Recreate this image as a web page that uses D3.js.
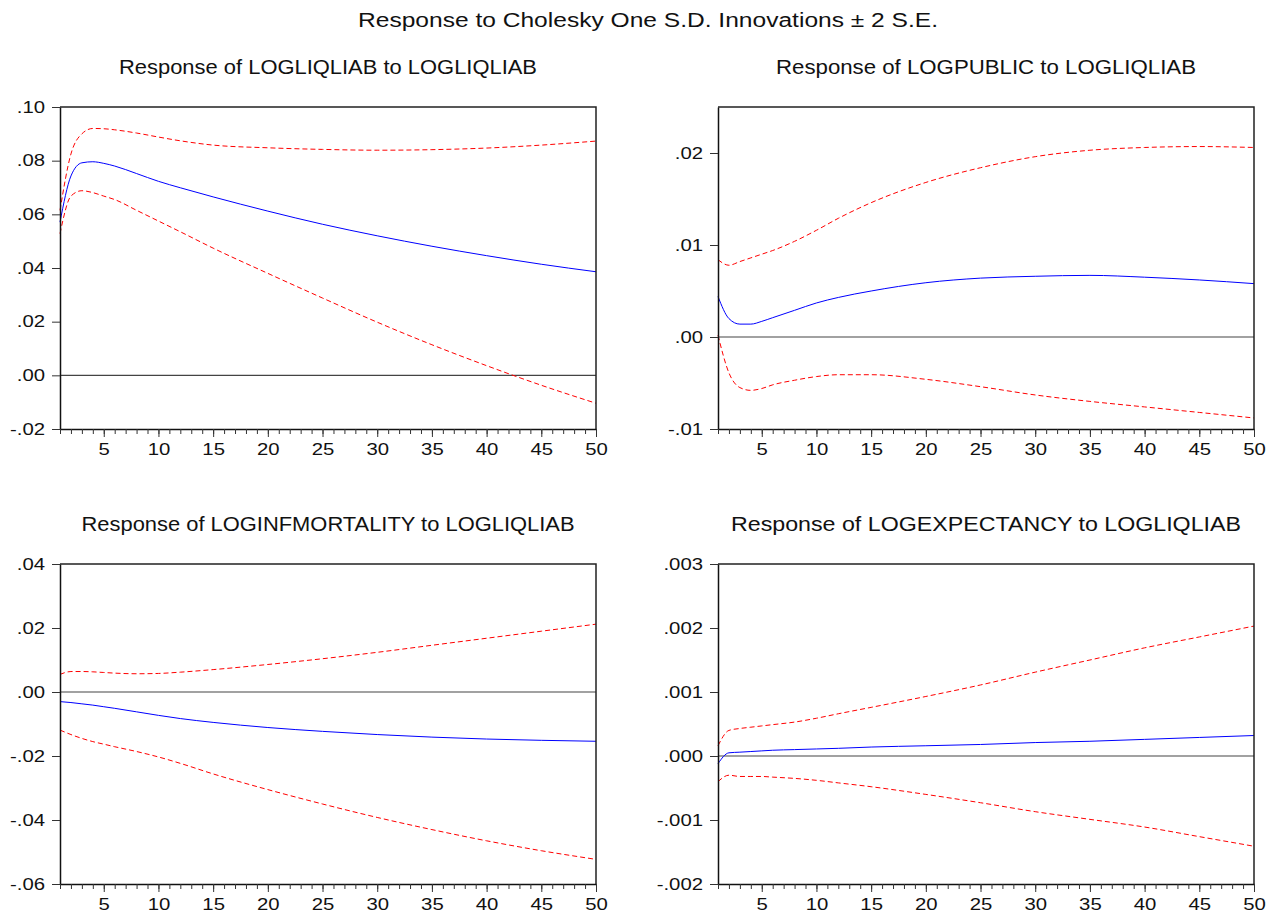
<!DOCTYPE html>
<html>
<head>
<meta charset="utf-8">
<script src="https://cdn.jsdelivr.net/npm/d3@7"></script>
<style>
  html, body { margin: 0; padding: 0; background: #fff; }
  svg { display: block; }
  text { font-family: "Liberation Sans", Arial, sans-serif; fill: #111; }
</style>
</head>
<body>
<svg id="chart" width="1276" height="914"></svg>
<script>
// ---------------- DATA ----------------
const mainTitle = "Response to Cholesky One S.D. Innovations \u00B1 2 S.E.";
const panelTitles = [
  "Response of LOGLIQLIAB to LOGLIQLIAB",
  "Response of LOGPUBLIC to LOGLIQLIAB",
  "Response of LOGINFMORTALITY to LOGLIQLIAB",
  "Response of LOGEXPECTANCY to LOGLIQLIAB"
];
const periods = [1, 2, 3, 4, 5, 6, 8, 10, 12, 15, 20, 25, 30, 35, 40, 45, 50];
const xTickValues = [5, 10, 15, 20, 25, 30, 35, 40, 45, 50];

// Panel 1: LOGLIQLIAB to LOGLIQLIAB
const p1Resp  = [0.0571, 0.0743, 0.0792, 0.0796, 0.0790, 0.0780, 0.0752, 0.0723, 0.0699, 0.0665, 0.0612, 0.0563, 0.0520, 0.0481, 0.0446, 0.0414, 0.0386];
const p1Upper = [0.0615, 0.0825, 0.0900, 0.0920, 0.0919, 0.0915, 0.0903, 0.0888, 0.0874, 0.0858, 0.0848, 0.0842, 0.0839, 0.0841, 0.0847, 0.0858, 0.0873];
const p1Lower = [0.0528, 0.0668, 0.0688, 0.0681, 0.0668, 0.0655, 0.0615, 0.0575, 0.0535, 0.0474, 0.0380, 0.0288, 0.0198, 0.0114, 0.0036, -0.0037, -0.0104];
const p1Ticks = [-0.02, 0.00, 0.02, 0.04, 0.06, 0.08, 0.10];
const p1Labels = ["-.02", ".00", ".02", ".04", ".06", ".08", ".10"];

// Panel 2: LOGPUBLIC to LOGLIQLIAB
const p2Resp  = [0.0044, 0.0020, 0.0014, 0.0014, 0.0017, 0.0021, 0.0029, 0.0037, 0.0043, 0.0050, 0.0059, 0.0064, 0.0066, 0.0067, 0.0065, 0.0062, 0.0058];
const p2Upper = [0.0084, 0.0078, 0.0082, 0.0086, 0.0090, 0.0094, 0.0104, 0.0116, 0.0129, 0.0146, 0.0168, 0.0184, 0.0196, 0.0203, 0.0206, 0.0207, 0.0206];
const p2Lower = [0.0002, -0.0039, -0.0055, -0.0058, -0.0056, -0.0052, -0.0047, -0.0043, -0.0041, -0.0041, -0.0046, -0.0054, -0.0063, -0.0070, -0.0076, -0.0082, -0.0088];
const p2Ticks = [-0.01, 0.00, 0.01, 0.02];
const p2Labels = ["-.01", ".00", ".01", ".02"];

// Panel 3: LOGINFMORTALITY to LOGLIQLIAB
const p3Resp  = [-0.0030, -0.0033, -0.0037, -0.0041, -0.0046, -0.0051, -0.0062, -0.0073, -0.0083, -0.0095, -0.0111, -0.0123, -0.0133, -0.0141, -0.0147, -0.0151, -0.0154];
const p3Upper = [0.0055, 0.0064, 0.0064, 0.0063, 0.0061, 0.0059, 0.0057, 0.0058, 0.0062, 0.0070, 0.0086, 0.0104, 0.0124, 0.0146, 0.0168, 0.0190, 0.0212];
const p3Lower = [-0.0119, -0.0133, -0.0145, -0.0155, -0.0163, -0.0171, -0.0186, -0.0203, -0.0223, -0.0256, -0.0305, -0.0350, -0.0392, -0.0430, -0.0465, -0.0496, -0.0523];
const p3Ticks = [-0.06, -0.04, -0.02, 0.00, 0.02, 0.04];
const p3Labels = ["-.06", "-.04", "-.02", ".00", ".02", ".04"];

// Panel 4: LOGEXPECTANCY to LOGLIQLIAB
const p4Resp  = [-0.00012, 0.00005, 0.00006, 0.00007, 0.00008, 0.00009, 0.00010, 0.00011, 0.00012, 0.00014, 0.00016, 0.00018, 0.00021, 0.00023, 0.00026, 0.00029, 0.00032];
const p4Upper = [0.00016, 0.00040, 0.00043, 0.00045, 0.00047, 0.00049, 0.00053, 0.00059, 0.00066, 0.00076, 0.00093, 0.00111, 0.00131, 0.00150, 0.00169, 0.00186, 0.00203];
const p4Lower = [-0.00040, -0.00030, -0.00032, -0.00032, -0.00032, -0.00033, -0.00035, -0.00038, -0.00042, -0.00048, -0.00060, -0.00073, -0.00087, -0.00099, -0.00111, -0.00126, -0.00141];
const p4Ticks = [-0.002, -0.001, 0.000, 0.001, 0.002, 0.003];
const p4Labels = ["-.002", "-.001", ".000", ".001", ".002", ".003"];

// ---------------- DRAW ----------------
const svg = d3.select("#chart");
const STRETCH = 1.27;   // tick labels are drawn wide, as in the original

function stretchLabels(sel) {
  sel.each(function () {
    const w = this.getComputedTextLength();
    if (w > 0) {
      d3.select(this).attr("textLength", w * STRETCH).attr("lengthAdjust", "spacingAndGlyphs");
    }
  });
}

svg.append("text")
  .attr("x", 648).attr("y", 27)
  .attr("text-anchor", "middle")
  .attr("font-size", 20)
  .attr("textLength", 580).attr("lengthAdjust", "spacingAndGlyphs")
  .text(mainTitle);

const panels = [
  { title: panelTitles[0], resp: p1Resp, up: p1Upper, lo: p1Lower, ticks: p1Ticks, labels: p1Labels,
    domain: [-0.02, 0.10], box: [60, 107, 596, 429], titleY: 74, titleW: 418 },
  { title: panelTitles[1], resp: p2Resp, up: p2Upper, lo: p2Lower, ticks: p2Ticks, labels: p2Labels,
    domain: [-0.01, 0.025], box: [718, 107, 1254, 429], titleY: 74, titleW: 420 },
  { title: panelTitles[2], resp: p3Resp, up: p3Upper, lo: p3Lower, ticks: p3Ticks, labels: p3Labels,
    domain: [-0.06, 0.04], box: [60, 564, 596, 884], titleY: 531, titleW: 493 },
  { title: panelTitles[3], resp: p4Resp, up: p4Upper, lo: p4Lower, ticks: p4Ticks, labels: p4Labels,
    domain: [-0.002, 0.003], box: [718, 564, 1254, 884], titleY: 531, titleW: 510 }
];

panels.forEach(p => {
  const [x0, y0, x1, y1] = p.box;
  const x = d3.scaleLinear().domain([1, 50]).range([x0, x1]);
  const y = d3.scaleLinear().domain(p.domain).range([y1, y0]);
  const g = svg.append("g");

  // title
  g.append("text")
    .attr("x", (x0 + x1) / 2).attr("y", p.titleY)
    .attr("text-anchor", "middle")
    .attr("font-size", 19.5)
    .attr("textLength", p.titleW).attr("lengthAdjust", "spacingAndGlyphs")
    .text(p.title);

  // zero line
  g.append("line")
    .attr("x1", x0).attr("x2", x1)
    .attr("y1", y(0)).attr("y2", y(0))
    .attr("stroke", "#444").attr("stroke-width", 1.1);

  // series
  const lineGen = d3.line()
    .x((d, i) => x(periods[i]))
    .y(d => y(d))
    .curve(d3.curveMonotoneX);

  [p.up, p.lo].forEach(arr => {
    g.append("path").datum(arr)
      .attr("d", lineGen)
      .attr("fill", "none")
      .attr("stroke", "#ff0000")
      .attr("stroke-width", 1)
      .attr("stroke-dasharray", "5,3");
  });
  g.append("path").datum(p.resp)
    .attr("d", lineGen)
    .attr("fill", "none")
    .attr("stroke", "#0000ff")
    .attr("stroke-width", 1);

  // frame (top & right)
  g.append("path")
    .attr("d", `M${x0},${y0}H${x1}V${y1}`)
    .attr("fill", "none").attr("stroke", "#222").attr("stroke-width", 1.5);

  // y axis
  const yAxis = d3.axisLeft(y)
    .tickValues(p.ticks)
    .tickFormat((d, i) => p.labels[i])
    .tickSize(8).tickPadding(7).tickSizeOuter(0);
  const ya = g.append("g").attr("transform", `translate(${x0},0)`).call(yAxis);
  ya.attr("font-size", 16);
  ya.select(".domain").attr("stroke", "#111").attr("stroke-width", 1.5);
  ya.selectAll(".tick line").attr("stroke", "#333");
  ya.selectAll("text").attr("font-size", 16).attr("fill", "#111")
    .style("font-family", "'Liberation Sans', Arial, sans-serif")
    .call(stretchLabels);

  // x minor ticks
  const xMinor = d3.axisBottom(x).tickValues(d3.range(1, 51)).tickSize(5).tickFormat("").tickSizeOuter(0);
  const xm = g.append("g").attr("transform", `translate(0,${y1})`).call(xMinor);
  xm.select(".domain").attr("stroke", "#111").attr("stroke-width", 1.5);
  xm.selectAll(".tick line").attr("stroke", "#333");

  // x major ticks + labels
  const xMajor = d3.axisBottom(x).tickValues(xTickValues).tickSize(8).tickPadding(7).tickSizeOuter(0);
  const xa = g.append("g").attr("transform", `translate(0,${y1})`).call(xMajor);
  xa.attr("font-size", 16);
  xa.select(".domain").remove();
  xa.selectAll(".tick line").attr("stroke", "#333");
  xa.selectAll("text").attr("font-size", 16).attr("fill", "#111")
    .style("font-family", "'Liberation Sans', Arial, sans-serif")
    .call(stretchLabels);
});
</script>
</body>
</html>
